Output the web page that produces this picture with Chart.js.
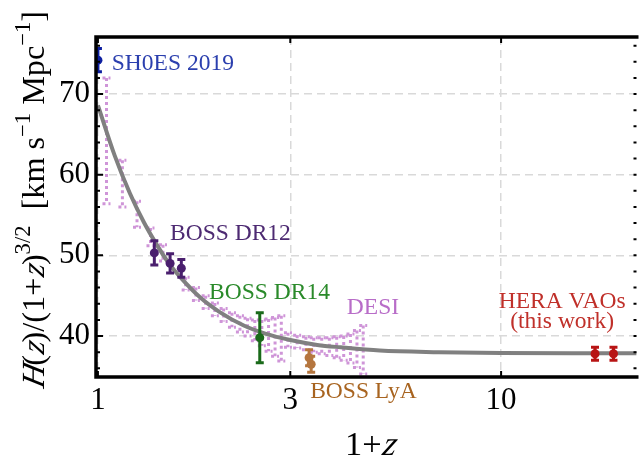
<!DOCTYPE html>
<html>
<head>
<meta charset="utf-8">
<script src="https://cdn.jsdelivr.net/npm/chart.js@4"></script>
<style>
html, body { margin: 0; padding: 0; background: #fff; overflow: hidden; }
</style>
</head>
<body>
<canvas id="chart" width="641" height="459"></canvas>
<script>
// fiducial curve, 1+z vs H(z)/(1+z)^{3/2}
const curveX = [1, 1.1, 1.2, 1.3, 1.4, 1.5, 1.6, 1.8, 2, 2.3, 2.6, 3, 3.5, 4, 5, 7, 10, 15, 21.7];
const curveY = [68.6, 62.4, 57.7, 54.1, 51.3, 49.0, 47.3, 44.7, 43.0, 41.3, 40.3, 39.5, 38.9, 38.6, 38.2, 38.0, 37.9, 37.85, 37.85];

// DESI forecast (dotted bars)
const desiX = [1.05, 1.15, 1.25, 1.35, 1.45, 1.65, 1.75, 1.85, 1.95, 2.05, 2.15, 2.25, 2.35, 2.45, 2.55, 2.65, 2.75, 2.85,
               2.96, 3.12, 3.28, 3.43, 3.59, 3.75, 3.91, 4.07, 4.23, 4.39, 4.55];
const desiY = [64.2, 58.9, 55.1, 52.3, 50.3, 46.5, 45.2, 44.2, 43.3, 42.6, 42.0, 41.5, 41.1, 40.7, 40.4, 40.1, 39.9, 39.7,
               39.5, 39.3, 39.1, 38.9, 38.8, 38.7, 38.6, 38.5, 38.45, 38.4, 38.3];
const desiErr = [7.8, 2.9, 1.6, 1.1, 1.0, 0.8, 0.8, 0.8, 0.8, 0.8, 0.9, 1.0, 1.1, 1.3, 1.6, 2.0, 2.4, 2.8,
                 0.9, 0.8, 0.8, 0.9, 1.0, 1.1, 1.3, 1.5, 1.8, 2.3, 3.0];

const shoesX = [1];
const shoesY = [74.2];
const shoesErr = [1.45];

const dr12X = [1.38, 1.51, 1.61];
const dr12Y = [50.3, 49.0, 48.4];
const dr12Err = [1.5, 1.2, 1.1];

const dr14X = [2.52];
const dr14Y = [39.8];
const dr14Err = [3.1];

const lyaX = [3.34, 3.38];
const lyaY = [37.3, 36.5];
const lyaErr = [1.0, 1.0];

const heraX = [17.1, 19.0];
const heraY = [37.8, 37.8];
const heraErr = [0.8, 0.8];

const xTicks = [1, 3, 10];
const yTicks = [40, 50, 60, 70];
const yMinor = [36, 38, 42, 44, 46, 48, 52, 54, 56, 58, 62, 64, 66, 68, 72, 74, 76];

// text next to the data, anchored in data units
const notes = [
  { text: 'SH0ES 2019', x: 1.082, y: 73.04, color: '#2b3fae', align: 'left' },
  { text: 'BOSS DR12', x: 1.509, y: 51.96, color: '#4d2a72', align: 'left' },
  { text: 'BOSS DR14', x: 1.886, y: 44.65, color: '#2a8a2a', align: 'left' },
  { text: 'DESI', x: 4.144, y: 42.79, color: '#b86dc8', align: 'left' },
  { text: 'BOSS LyA', x: 3.36, y: 32.31, color: '#a86420', align: 'left' },
  { text: 'HERA VAOs', x: 14.17, y: 43.53, color: '#c0302a', align: 'center' },
  { text: '(this work)', x: 14.17, y: 40.99, color: '#c0302a', align: 'center' }
];

// pick a Times-like face if there is one
const probe = document.createElement('canvas').getContext('2d');
function hasFont(name) {
  const s = 'mmmmmwwwlli10BOSS';
  for (const base of ['monospace', 'sans-serif']) {
    probe.font = '40px ' + base;
    const a = probe.measureText(s).width;
    probe.font = '40px "' + name + '", ' + base;
    if (probe.measureText(s).width !== a) return true;
  }
  return false;
}
const family = ['Liberation Serif', 'Tinos', 'Nimbus Roman', 'FreeSerif', 'DejaVu Serif Condensed', 'DejaVu Serif']
  .find(hasFont) || 'serif';
const SERIF = '"' + family + '", serif';

// no italic face installed -> slant by hand
probe.font = '100px ' + SERIF;
const upright = probe.measureText('l');
probe.font = 'italic 100px ' + SERIF;
const slanted = probe.measureText('l');
const fakeItalic = Math.abs(upright.actualBoundingBoxRight - slanted.actualBoundingBoxRight) < 1 &&
  Math.abs(upright.width - slanted.width) < 0.5;

// font size that makes `text` span `target` pixels
function fitSize(text, target) {
  probe.font = '100px ' + SERIF;
  return 100 * target / probe.measureText(text).width;
}
const noteSize = Math.min(26, fitSize('BOSS DR12', 121));
const tickSize = Math.min(31, fitSize('70', 32));

const pts = (xs, ys) => xs.map((x, i) => ({ x: x, y: ys[i] }));

function errSet(label, xs, ys, errs, color) {
  return {
    type: 'scatter', label: label, data: pts(xs, ys), errors: errs,
    backgroundColor: color, borderColor: color, pointRadius: 4.5, borderWidth: 0,
    barWidth: 3, capHalf: 4, order: 0
  };
}

const errorBars = {
  id: 'errorBars',
  afterDatasetDraw(chart, args) {
    const ds = chart.data.datasets[args.index];
    if (!ds.errors) return;
    const { ctx, chartArea: a, scales: { x, y } } = chart;
    ctx.save();
    ctx.beginPath();
    ctx.rect(a.left, a.top, a.right - a.left, a.bottom - a.top);
    ctx.clip();
    ctx.strokeStyle = ds.borderColor;
    ctx.lineWidth = ds.barWidth;
    ctx.setLineDash(ds.barDash || []);
    ds.data.forEach((p, i) => {
      const px = x.getPixelForValue(p.x);
      const top = y.getPixelForValue(p.y + ds.errors[i]);
      const bot = y.getPixelForValue(p.y - ds.errors[i]);
      const c = ds.capHalf;
      ctx.beginPath();
      ctx.moveTo(px, top); ctx.lineTo(px, bot);
      ctx.moveTo(px - c, top); ctx.lineTo(px + c, top);
      ctx.moveTo(px - c, bot); ctx.lineTo(px + c, bot);
      ctx.stroke();
    });
    ctx.restore();
  }
};

// rich text runs centred on the origin, scaled to span `length` px; sup runs are smaller and raised
function drawRuns(ctx, runs, length) {
  const measure = size => runs.reduce((w, r) => {
    ctx.font = (r.it ? 'italic ' : '') + (r.sup ? size * 0.7 : size) + 'px ' + SERIF;
    r.w = ctx.measureText(r.t).width;
    return w + r.w;
  }, 0);
  const size = 100 * length / measure(100);
  const w = measure(size);
  let cx = -w / 2;
  runs.forEach(r => {
    ctx.font = (r.it ? 'italic ' : '') + (r.sup ? size * 0.7 : size) + 'px ' + SERIF;
    ctx.save();
    ctx.translate(cx, r.sup ? -size * 0.42 : 0);
    if (r.it && fakeItalic) ctx.transform(1, 0, -0.22, 1, 0, 0);
    ctx.fillText(r.t, 0, 0);
    ctx.restore();
    cx += r.w;
  });
}

const decor = {
  id: 'decor',
  afterDraw(chart) {
    const { ctx, chartArea: a, scales: { x, y } } = chart;
    ctx.save();
    ctx.fillStyle = '#000';
    ctx.textBaseline = 'alphabetic';
    ctx.textAlign = 'left';

    // y title
    ctx.save();
    ctx.translate(43.5, 200);
    ctx.rotate(-Math.PI / 2);
    drawRuns(ctx, [
      { t: 'H', it: true }, { t: '(' }, { t: 'z', it: true }, { t: ')/(1+' }, { t: 'z', it: true }, { t: ')' },
      { t: '3/2', sup: true }, { t: '  [km s' }, { t: '\u22121', sup: true }, { t: ' Mpc' }, { t: '\u22121', sup: true }, { t: ']' }
    ], 378);
    ctx.restore();

    // x title
    ctx.save();
    ctx.translate(370, 455);
    drawRuns(ctx, [{ t: '1+' }, { t: 'z', it: true }], 50);
    ctx.restore();

    // notes
    ctx.font = noteSize + 'px ' + SERIF;
    notes.forEach(n => {
      ctx.fillStyle = n.color;
      ctx.textAlign = n.align;
      ctx.fillText(n.text, x.getPixelForValue(n.x), y.getPixelForValue(n.y));
    });

    // inward ticks
    ctx.strokeStyle = '#000';
    ctx.lineWidth = 2;
    ctx.beginPath();
    yMinor.forEach(v => {
      const py = y.getPixelForValue(v);
      ctx.moveTo(a.left, py); ctx.lineTo(a.left + 4, py);
      ctx.moveTo(a.right, py); ctx.lineTo(a.right - 3, py);
    });
    yTicks.forEach(v => {
      const py = y.getPixelForValue(v);
      ctx.moveTo(a.left, py); ctx.lineTo(a.left + 7, py);
      ctx.moveTo(a.right, py); ctx.lineTo(a.right - 3, py);
    });
    xTicks.forEach(v => {
      const px = x.getPixelForValue(v);
      ctx.moveTo(px, a.bottom); ctx.lineTo(px, a.bottom - 6);
      ctx.moveTo(px, a.top); ctx.lineTo(px, a.top + 6);
    });
    ctx.stroke();

    // frame: left, top, bottom (the right side lies past the crop)
    ctx.lineWidth = 3.5;
    ctx.beginPath();
    ctx.moveTo(a.right + 2, a.top); ctx.lineTo(a.left, a.top);
    ctx.lineTo(a.left, a.bottom); ctx.lineTo(a.right + 2, a.bottom);
    ctx.stroke();
    ctx.restore();
  }
};

const tickFont = { family: SERIF, size: tickSize };

new Chart(document.getElementById('chart').getContext('2d'), {
  type: 'scatter',
  data: {
    datasets: [
      errSet('SH0ES 2019', shoesX, shoesY, shoesErr, '#0d1fa0'),
      errSet('BOSS DR12', dr12X, dr12Y, dr12Err, '#4a1f6e'),
      errSet('BOSS DR14', dr14X, dr14Y, dr14Err, '#1a6a1a'),
      errSet('BOSS LyA', lyaX, lyaY, lyaErr, '#b5763f'),
      errSet('HERA VAOs', heraX, heraY, heraErr, '#b81414'),
      {
        type: 'line', label: 'fiducial', data: pts(curveX, curveY),
        borderColor: '#808080', borderWidth: 4, pointRadius: 0,
        cubicInterpolationMode: 'monotone', order: 1
      },
      {
        type: 'scatter', label: 'DESI', data: pts(desiX, desiY), errors: desiErr,
        borderColor: '#cf95d8', backgroundColor: '#cf95d8', pointRadius: 0,
        barWidth: 3, capHalf: 4, barDash: [3, 3], order: 2
      }
    ]
  },
  options: {
    responsive: false,
    devicePixelRatio: 1,
    animation: false,
    layout: { padding: { top: 37, left: 0, right: 0, bottom: 0 } },
    plugins: { legend: { display: false }, tooltip: { enabled: false } },
    scales: {
      x: {
        type: 'logarithmic', min: 0.989, max: 21.67,
        afterBuildTicks: s => { s.ticks = xTicks.map(v => ({ value: v })); },
        afterFit: s => { s.height = 82; },
        ticks: { color: '#000', font: tickFont, padding: 5, maxRotation: 0, autoSkip: false, callback: v => String(v) },
        grid: { color: '#d9d9d9', lineWidth: 1.5, drawTicks: false },
        border: { display: false, dash: [8, 5] }
      },
      y: {
        type: 'linear', min: 34.92, max: 77.07,
        afterBuildTicks: s => { s.ticks = yTicks.map(v => ({ value: v })); },
        afterFit: s => { s.width = 96; },
        ticks: { color: '#000', font: tickFont, padding: 6, autoSkip: false },
        grid: { color: '#d9d9d9', lineWidth: 1.5, drawTicks: false },
        border: { display: false, dash: [8, 5] }
      }
    }
  },
  plugins: [errorBars, decor]
});
</script>
</body>
</html>
